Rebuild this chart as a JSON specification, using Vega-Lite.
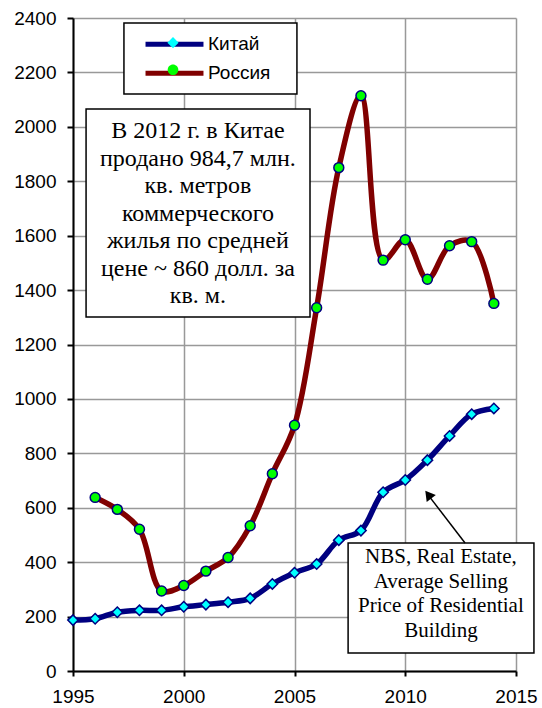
{
  "$schema": "https://vega.github.io/schema/vega-lite/v6.json",
  "width": 443,
  "height": 653,
  "autosize": {"type": "none"},
  "padding": {"left": 73, "top": 18, "right": 26, "bottom": 37},
  "background": "white",
  "config": {
    "view": {"stroke": null},
    "axis": {
      "labelFont": "Liberation Sans",
      "labelFontSize": 19,
      "labelColor": "black",
      "domainColor": "black",
      "domainWidth": 2,
      "tickColor": "black",
      "tickWidth": 2,
      "tickSize": 5,
      "gridColor": "#999999",
      "gridWidth": 1.5,
      "title": null
    }
  },
  "datasets": {
    "prices": [
      {"year": 1995, "country": "Китай", "series": "Китай", "value": 187},
      {"year": 1996, "country": "Китай", "series": "Китай", "value": 192},
      {"year": 1997, "country": "Китай", "series": "Китай", "value": 216},
      {"year": 1998, "country": "Китай", "series": "Китай", "value": 223},
      {"year": 1999, "country": "Китай", "series": "Китай", "value": 223},
      {"year": 2000, "country": "Китай", "series": "Китай", "value": 236},
      {"year": 2001, "country": "Китай", "series": "Китай", "value": 244},
      {"year": 2002, "country": "Китай", "series": "Китай", "value": 253},
      {"year": 2003, "country": "Китай", "series": "Китай", "value": 267},
      {"year": 2004, "country": "Китай", "series": "Китай", "value": 320},
      {"year": 2005, "country": "Китай", "series": "Китай", "value": 361},
      {"year": 2006, "country": "Китай", "series": "Китай", "value": 393},
      {"year": 2007, "country": "Китай", "series": "Китай", "value": 481},
      {"year": 2008, "country": "Китай", "series": "Китай", "value": 516},
      {"year": 2009, "country": "Китай", "series": "Китай", "value": 657},
      {"year": 2010, "country": "Китай", "series": "Китай", "value": 702},
      {"year": 2011, "country": "Китай", "series": "Китай", "value": 775},
      {"year": 2012, "country": "Китай", "series": "Китай", "value": 864},
      {"year": 2013, "country": "Китай", "series": "Китай", "value": 944},
      {"year": 2014, "country": "Китай", "series": "Китай", "value": 965},
      {"year": 1996, "country": "Россия", "series": "Россия", "value": 638},
      {"year": 1997, "country": "Россия", "series": "Россия", "value": 594},
      {"year": 1998, "country": "Россия", "series": "Россия", "value": 521},
      {"year": 1999, "country": "Россия", "series": "Россия", "value": 294},
      {"year": 2000, "country": "Россия", "series": "Россия", "value": 314},
      {"year": 2001, "country": "Россия", "series": "Россия", "value": 367},
      {"year": 2002, "country": "Россия", "series": "Россия", "value": 417},
      {"year": 2003, "country": "Россия", "series": "Россия", "value": 534},
      {"year": 2004, "country": "Россия", "series": "Россия", "value": 725},
      {"year": 2005, "country": "Россия", "series": "Россия", "value": 903},
      {"year": 2006, "country": "Россия", "series": "Россия", "value": 1335},
      {"year": 2007, "country": "Россия", "series": "Россия", "value": 1850},
      {"year": 2008, "country": "Россия", "series": "Россия", "value": 2114},
      {"year": 2009, "country": "Россия", "series": "Россия", "value": 1510},
      {"year": 2010, "country": "Россия", "series": "Россия", "value": 1585},
      {"year": 2011, "country": "Россия", "series": "Россия", "value": 1440},
      {"year": 2012, "country": "Россия", "series": "Россия", "value": 1563},
      {"year": 2013, "country": "Россия", "series": "Россия", "value": 1578},
      {"year": 2014, "country": "Россия", "series": "Россия", "value": 1351}
    ]
  },
  "layer": [
    {
      "data": {"name": "prices"},
      "mark": {"type": "line", "interpolate": "catmull-rom", "strokeWidth": 5.5},
      "encoding": {
        "x": {"field": "year", "type": "quantitative",
              "scale": {"domain": [1995, 2015], "nice": false, "zero": false},
              "axis": {"values": [1995, 2000, 2005, 2010, 2015], "format": "d", "labelPadding": 11, "labelFlush": false, "labelOverlap": false}},
        "y": {"field": "value", "type": "quantitative",
              "scale": {"domain": [0, 2400], "nice": false},
              "axis": {"values": [0, 200, 400, 600, 800, 1000, 1200, 1400, 1600, 1800, 2000, 2200, 2400], "format": "d", "tickSize": 6, "labelPadding": 11, "labelOverlap": false}},
        "stroke": {"field": "country", "type": "nominal",
                   "scale": {"range": ["#000080", "#800000"]},
                   "legend": {"orient": "none", "legendX": 85, "legendY": 9.7, "title": null,
                              "symbolType": "M-2.07,0L2.07,0", "symbolSize": 784, "symbolStrokeWidth": 5,
                              "symbolOffset": 0, "labelOffset": 17, "labelFont": "Liberation Sans",
                              "labelFontSize": 19, "labelColor": "black", "rowPadding": 2, "padding": 0}}
      }
    },
    {
      "data": {"name": "prices"},
      "mark": {"type": "point", "filled": true, "stroke": "#000080", "strokeWidth": 1.5, "opacity": 1, "size": 680},
      "encoding": {
        "x": {"field": "year", "type": "quantitative"},
        "y": {"field": "value", "type": "quantitative"},
        "fill": {"field": "series", "type": "nominal",
                 "scale": {"range": ["#00FFFF", "#00FF00"]},
                 "legend": {"orient": "none", "legendX": 85, "legendY": 9.7, "title": null,
                            "symbolSize": 784, "symbolStrokeWidth": 1.5, "symbolStrokeColor": "#000080",
                            "symbolOffset": 0, "labelOffset": 17, "labelFont": "Liberation Sans",
                            "labelFontSize": 19, "labelExpr": "''", "rowPadding": 2, "padding": 0}},
        "shape": {"field": "series", "type": "nominal",
                  "scale": {"range": ["M0,-0.4L0.4,0L0,0.4L-0.4,0Z", "M0.38,0A0.38,0.38,0,1,1,-0.38,0A0.38,0.38,0,1,1,0.38,0Z"]},
                  "legend": {"orient": "none", "legendX": 85, "legendY": 9.7, "title": null,
                             "symbolSize": 784, "symbolStrokeWidth": 1.5, "symbolStrokeColor": "#000080",
                             "symbolOffset": 0, "labelOffset": 17, "labelFont": "Liberation Sans",
                             "labelFontSize": 19, "labelExpr": "''", "rowPadding": 2, "padding": 0}}
      }
    },
    {
      "data": {"values": [{}]},
      "mark": {"type": "rect", "fill": "white", "stroke": "black", "strokeWidth": 1.5},
      "encoding": {
        "x": {"datum": 1997.3, "type": "quantitative"},
        "x2": {"datum": 2005.11},
        "y": {"datum": 2381.7, "type": "quantitative"},
        "y2": {"datum": 2120.7}
      }
    },
    {
      "data": {"values": [{}]},
      "mark": {"type": "rect", "fill": "white", "stroke": "black", "strokeWidth": 1.5},
      "encoding": {
        "x": {"datum": 1995.59, "type": "quantitative"},
        "x2": {"datum": 2005.7},
        "y": {"datum": 2065.6, "type": "quantitative"},
        "y2": {"datum": 1301}
      }
    },
    {
      "data": {"values": [{}]},
      "mark": {"type": "text", "font": "Liberation Serif", "fontSize": 24, "lineHeight": 27.5,
               "align": "center", "baseline": "top", "color": "black",
               "text": ["В 2012 г. в Китае", "продано 984,7 млн.", "кв. метров", "коммерческого", "жилья по средней", "цене ~ 860 долл. за", "кв. м."]},
      "encoding": {
        "x": {"datum": 2000.64, "type": "quantitative"},
        "y": {"datum": 2028, "type": "quantitative"}
      }
    },
    {
      "data": {"values": [{}]},
      "mark": {"type": "rect", "fill": "white", "stroke": "black", "strokeWidth": 1.5},
      "encoding": {
        "x": {"datum": 2007.42, "type": "quantitative"},
        "x2": {"datum": 2015.81},
        "y": {"datum": 470.4, "type": "quantitative"},
        "y2": {"datum": 66.2}
      }
    },
    {
      "data": {"values": [{}]},
      "mark": {"type": "text", "font": "Liberation Serif", "fontSize": 21, "lineHeight": 24.7,
               "align": "center", "baseline": "top", "color": "black",
               "text": ["NBS, Real Estate,", "Average Selling", "Price of Residential", "Building"]},
      "encoding": {
        "x": {"datum": 2011.61, "type": "quantitative"},
        "y": {"datum": 460, "type": "quantitative"}
      }
    },
    {
      "data": {"values": [{}]},
      "mark": {"type": "rule", "color": "black", "strokeWidth": 1.5},
      "encoding": {
        "x": {"datum": 2012.7, "type": "quantitative"},
        "x2": {"datum": 2011.1},
        "y": {"datum": 470.4, "type": "quantitative"},
        "y2": {"datum": 640}
      }
    },
    {
      "data": {"values": [{}]},
      "mark": {"type": "point", "shape": "triangle-up", "filled": true, "color": "black", "opacity": 1, "size": 130, "angle": 323},
      "encoding": {
        "x": {"datum": 2011.04, "type": "quantitative"},
        "y": {"datum": 648.3, "type": "quantitative"}
      }
    }
  ]
}
